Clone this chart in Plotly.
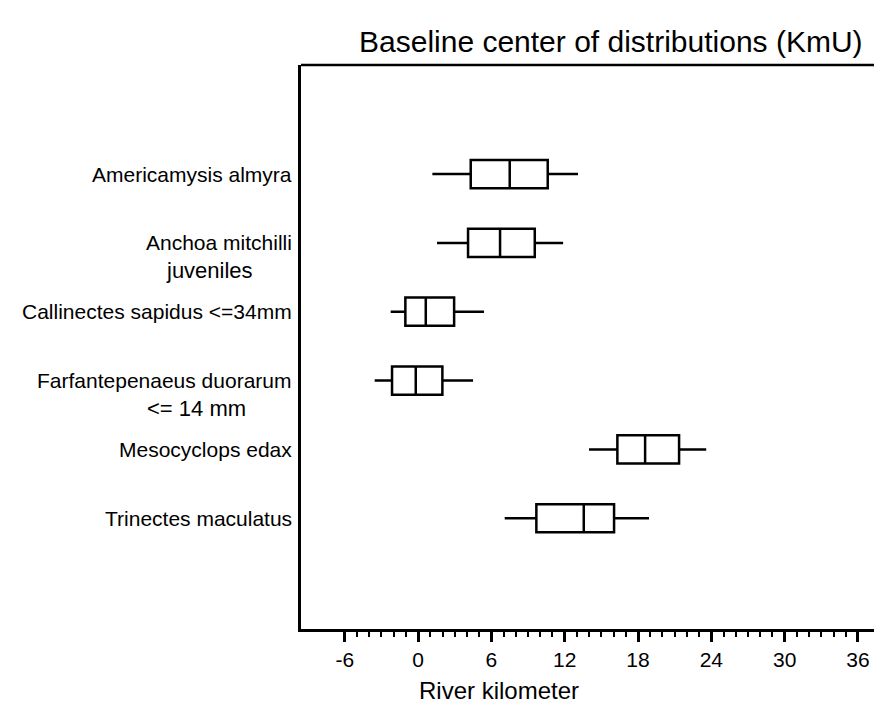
import plotly.graph_objects as go

# ---- data ----
species = ["Americamysis almyra", "Anchoa mitchilli", "Callinectes sapidus <=34mm",
           "Farfantepenaeus duorarum", "Mesocyclops edax", "Trinectes maculatus"]
second_lines = ["", "juveniles", "", "<= 14 mm", "", ""]
lower_whisker = [1.17, 1.55, -2.24, -3.55, 13.99, 7.09]
q1 = [4.31, 4.09, -1.04, -2.13, 16.31, 9.68]
median = [7.50, 6.71, 0.63, -0.19, 18.58, 13.56]
q3 = [10.61, 9.55, 2.95, 1.99, 21.36, 16.04]
upper_whisker = [13.09, 11.87, 5.40, 4.50, 23.58, 18.90]
major_ticks = [-6, 0, 6, 12, 18, 24, 30, 36]
minor_ticks = [v for v in range(-6, 37) if v % 6 != 0]

W, H = 882, 703
L, R, T, B = 293, 0, 57, 82
FONT = "Arial, Liberation Sans, sans-serif"

fig = go.Figure()
for i, name in enumerate(species):
    fig.add_trace(go.Box(
        y=[i], q1=[q1[i]], median=[median[i]], q3=[q3[i]],
        lowerfence=[lower_whisker[i]], upperfence=[upper_whisker[i]],
        orientation="h", width=0.41, whiskerwidth=0,
        line=dict(color="black", width=2.5), fillcolor="white",
        boxpoints=False, name=name, showlegend=False, hoverinfo="skip"))

pw = W - L - R
ph = H - T - B

def px_x(px):
    return (px - L) / pw

def px_y(py):
    return 1 - (py - T) / ph

annotations = []
for i, name in enumerate(species):
    annotations.append(dict(text=name, xref="paper", yref="y", x=px_x(286), y=i,
                            xanchor="right", yanchor="middle", showarrow=False,
                            font=dict(size=21, color="black", family=FONT)))
sec_x = {1: 201, 3: 188}
for i, t in enumerate(second_lines):
    if t:
        annotations.append(dict(text=t, xref="paper", yref="y", x=px_x(sec_x[i]), y=i + 0.40,
                                xanchor="center", yanchor="middle", showarrow=False,
                                font=dict(size=22, color="black", family=FONT)))
annotations.append(dict(text="River kilometer", xref="paper", yref="paper",
                        x=px_x(491), y=px_y(698), xanchor="center", yanchor="bottom",
                        showarrow=False, font=dict(size=24, color="black", family=FONT)))
annotations.append(dict(text="Baseline center of distributions (KmU)", xref="paper", yref="paper",
                        x=px_x(603), y=px_y(34), xanchor="center", yanchor="middle",
                        showarrow=False, font=dict(size=30, color="black", family=FONT)))

fig.update_layout(
    width=W, height=H, margin=dict(l=L, r=R, t=T, b=B),
    paper_bgcolor="white", plot_bgcolor="white",
    annotations=annotations,
    shapes=[dict(type="line", xref="paper", yref="paper", x0=0, x1=1.05, y0=1, y1=1,
                 line=dict(color="black", width=2.5))],
    xaxis=dict(range=[-9.58, 38.62], showgrid=False, zeroline=False,
               showline=True, linecolor="black", linewidth=2.5,
               tickmode="array", tickvals=major_ticks, ticktext=[str(v) for v in major_ticks],
               ticks="outside", ticklen=10, tickwidth=2.5, tickcolor="black",
               tickfont=dict(size=21, color="black", family=FONT),
               minor=dict(tickmode="array", tickvals=minor_ticks, ticks="outside",
                          ticklen=5, tickwidth=2, tickcolor="black")),
    yaxis=dict(range=[6.609, -1.584], showgrid=False, zeroline=False,
               showline=True, linecolor="black", linewidth=2.5,
               showticklabels=False, ticks=""),
)

fig.write_html("out.html")
